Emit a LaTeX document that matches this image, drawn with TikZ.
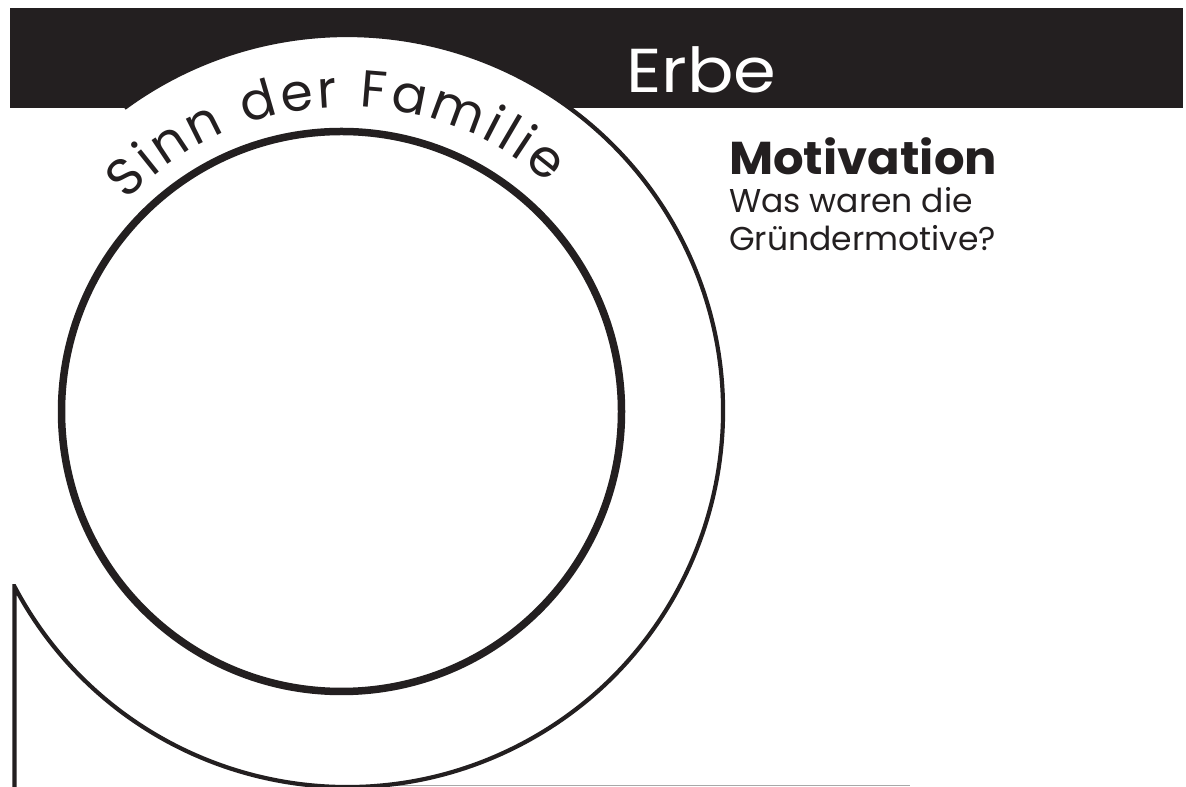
\documentclass[tikz,border=0pt]{standalone}
\usepackage{fontspec}
\setmainfont{Poppins}
\newfontfamily\widefont{Poppins}[FakeStretch=1.11]
\newfontfamily\headfont{Poppins}[FakeStretch=1.045]
\usetikzlibrary{decorations.text}
\definecolor{ink}{HTML}{231F20}
\definecolor{rulegray}{HTML}{A8A8A8}
\newcommand\sinnfont{\color{ink}\fontsize{52}{56}\selectfont}
\begin{document}
\begin{tikzpicture}[x=1pt,y=1pt,
  outerline/.style={draw=ink, line width=4.2pt, line join=miter},
  innerline/.style={draw=ink, line width=7.5pt},
  titletext/.style={text=white, font=\widefont\fontsize{62}{70}\selectfont, inner sep=0pt, anchor=base west},
  headtext/.style={text=ink, font=\headfont\bfseries\fontsize{46}{50}\selectfont, inner sep=0pt, anchor=base west},
  bodytext/.style={text=ink, font=\fontsize{33}{38}\selectfont, inner sep=0pt, anchor=base west, align=left}]
\useasboundingbox (0,0) rectangle (1186,787);
\coordinate (oc) at (347,376);
\coordinate (ic) at (341.5,375.5);
% black title bar
\fill[ink] (10,779) rectangle (1183,679);
% white disc overlapping the bar
\fill[white] (oc) circle[radius=376];
% grey base line
\coordinate (gl) at (345,1.5);
\coordinate (gr) at (910,1.5);
\draw[rulegray, line width=1.5pt] (gl) -- (gr);
% outer spiral line
\coordinate (vstart) at (14.4,0);
\coordinate (vtop) at ([shift={(oc)}]207.8:376);
\draw[outerline] (vstart) |- (vtop) arc[start angle=207.8, end angle=486.3, radius=376];
% inner circle
\draw[innerline] (ic) circle[radius=280];
% curved text
\path[decorate, decoration={text along path, text align=fit to path,
   text={|\sinnfont|Sinn der Familie}}]
   ([shift={(oc)}]136.3:304) arc[start angle=136.3, end angle=48.5, radius=304];
% texts
\node[titletext] (erbe) at (626,694) {Erbe};
\node[headtext] (motiv) at (729,612) {Motivation};
\node[bodytext] (frage) at (729,536) {Was waren die\\Gründermotive?};
\end{tikzpicture}
\end{document}
